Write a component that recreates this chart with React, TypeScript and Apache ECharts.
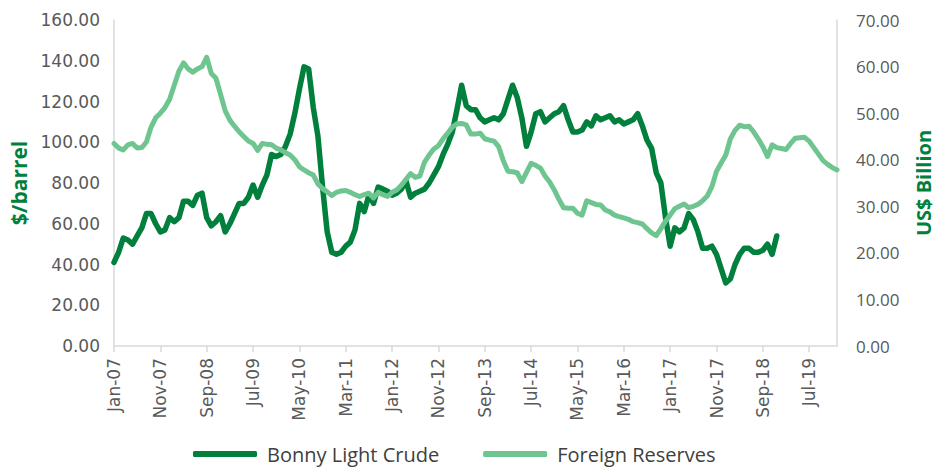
import React, { useEffect, useRef } from "react";
import * as echarts from "echarts";

const monthNames = ["Jan", "Feb", "Mar", "Apr", "May", "Jun", "Jul", "Aug", "Sep", "Oct", "Nov", "Dec"];
const startYear = 2007;
const monthCount = 157;
const categories: string[] = [];
for (let i = 0; i < monthCount; i++) {
  const y = (startYear + Math.floor(i / 12)) % 100;
  categories.push(`${monthNames[i % 12]}-${String(y).padStart(2, "0")}`);
}

const bonnyLightCrude = [
  41, 46, 53, 52, 50, 54, 58, 65, 65, 60, 56, 57,
  63, 61, 63, 71, 71, 69, 74, 75, 63, 59, 61, 64,
  56, 60, 65, 70, 70, 73, 79, 73, 79, 84, 94, 93,
  94, 98, 104, 114, 126, 137, 136, 117, 103, 78, 56, 46,
  45, 46, 49, 51, 57, 70, 66, 74, 70, 78, 77, 76,
  74, 75, 77, 81, 73, 75, 76, 77, 80, 84, 88, 94,
  99, 105, 116, 128, 118, 116, 116, 112, 110, 111, 112, 111,
  114, 121, 128, 122, 112, 98, 105, 114, 115, 110, 112, 114,
  115, 118, 111, 105, 105, 106, 110, 108, 113, 111, 112, 113,
  110, 111, 109, 110, 111, 114, 108, 101, 97, 85, 80, 63,
  49, 58, 56, 58, 65, 62, 56, 48, 48, 49, 45, 38,
  31, 33, 40, 45, 48, 48, 46, 46, 47, 50, 45, 54,
];

const foreignReserves = [
  43.5, 42.5, 42.1, 43.2, 43.5, 42.5, 42.6, 43.8, 47, 49, 50, 51.2,
  53, 56, 59, 60.8, 59.5, 58.8, 59.5, 60, 62, 58.5, 57.5, 54,
  50.5, 48.5, 47.2, 46, 45, 44, 43.5, 42, 43.5, 43.3, 43.2, 42.5,
  42.1, 41.5, 41, 40, 38.5, 37.8, 37.2, 36.7, 34.8, 33.8, 33.1, 32.3,
  33, 33.3, 33.4, 33, 32.5, 32.1, 32.5, 32.8, 31.8, 33, 32.5, 32.1,
  33, 33.5, 34.5, 35.8, 37, 36.2, 36.5, 39.5, 41, 42.3, 43, 44.5,
  45.7, 47, 47.7, 47.8, 47.5, 45.5, 45.5, 45.7, 44.5, 44.2, 44, 42.8,
  39.8, 37.5, 37.4, 37.2, 35.3, 37.3, 39.2, 38.8, 38.2, 36.5, 35.2, 33.5,
  31.5, 29.7, 29.6, 29.6, 28.5, 28.1, 31.2, 30.8, 30.4, 30.3, 29.2, 28.8,
  28.1, 27.8, 27.5, 27.2, 26.7, 26.5, 26.2, 25.2, 24.3, 23.7, 25.2, 26.8,
  28.1, 29.5, 30, 30.5, 29.7, 30, 30.4, 31.2, 32.2, 34.2, 37.5, 39.3,
  41, 44.5, 46.3, 47.4, 47.1, 47.2, 46, 44.5, 42.8, 40.7, 43.2, 42.6,
  42.4, 42.2, 43.5, 44.6, 44.7, 44.8, 44, 42.6, 41.2, 39.8, 39, 38.3,
  37.8,
];

const leftTicks = { min: 0, max: 160, interval: 20 };
const rightTicks = { min: 0, max: 70, interval: 10 };

const DARK = "#00803C";
const LIGHT = "#6FC590";
const AXIS_GREY = "#D9D9D9";
const LABEL_GREY = "#595959";

export default function App() {
  const ref = useRef<HTMLDivElement>(null);

  useEffect(() => {
    document.body.style.margin = "0";
    if (!ref.current) return;
    const chart = echarts.init(ref.current, undefined, { renderer: "svg" });
    chart.setOption({
      animation: false,
      backgroundColor: "#ffffff",
      grid: { left: 114, right: 95, top: 20, bottom: 121 },
      legend: {
        left: 188,
        top: 439,
        icon: "roundRect",
        itemWidth: 64,
        itemHeight: 6,
        itemGap: 44,
        textStyle: {
          fontFamily: "Open Sans",
          fontSize: 20,
          color: "#404040",
          padding: [0, 0, 0, 5],
        },
        data: ["Bonny Light Crude", "Foreign Reserves"],
      },
      xAxis: {
        type: "category",
        data: categories,
        boundaryGap: false,
        axisLine: { lineStyle: { color: AXIS_GREY, width: 1.5 } },
        axisTick: {
          interval: 9,
          length: 6,
          lineStyle: { color: AXIS_GREY, width: 1.5 },
        },
        axisLabel: {
          interval: 9,
          rotate: 90,
          margin: 12,
          color: LABEL_GREY,
          fontFamily: "DejaVu Sans",
          fontSize: 17,
        },
        splitLine: { show: false },
      },
      yAxis: [
        {
          type: "value",
          ...leftTicks,
          position: "left",
          name: "$/barrel",
          nameLocation: "middle",
          nameRotate: 90,
          nameGap: 84,
          nameTextStyle: {
            color: DARK,
            fontFamily: "Open Sans",
            fontWeight: "bold",
            fontSize: 21,
          },
          axisLine: { show: true, lineStyle: { color: AXIS_GREY, width: 1.5 } },
          axisTick: { show: false },
          splitLine: { show: false },
          axisLabel: {
            margin: 14,
            color: LABEL_GREY,
            fontFamily: "DejaVu Sans",
            fontSize: 17,
            formatter: (v: number) => v.toFixed(2),
          },
        },
        {
          type: "value",
          ...rightTicks,
          position: "right",
          name: "US$ Billion",
          nameLocation: "middle",
          nameRotate: 90,
          nameGap: 76,
          nameTextStyle: {
            color: DARK,
            fontFamily: "Open Sans",
            fontWeight: "bold",
            fontSize: 20,
          },
          axisLine: { show: true, lineStyle: { color: AXIS_GREY, width: 1.5 } },
          axisTick: { show: false },
          splitLine: { show: false },
          axisLabel: {
            margin: 19,
            color: LABEL_GREY,
            fontFamily: "Open Sans",
            fontSize: 17,
            formatter: (v: number) => v.toFixed(2),
          },
        },
      ],
      series: [
        {
          name: "Bonny Light Crude",
          type: "line",
          yAxisIndex: 0,
          data: bonnyLightCrude,
          showSymbol: false,
          symbol: "none",
          color: DARK,
          lineStyle: { color: DARK, width: 5.5, cap: "round", join: "round" },
        },
        {
          name: "Foreign Reserves",
          type: "line",
          yAxisIndex: 1,
          data: foreignReserves,
          showSymbol: false,
          symbol: "none",
          color: LIGHT,
          lineStyle: { color: LIGHT, width: 5, cap: "round", join: "round" },
        },
      ],
    });
    return () => chart.dispose();
  }, []);

  return <div ref={ref} style={{ width: 941, height: 467 }} />;
}
